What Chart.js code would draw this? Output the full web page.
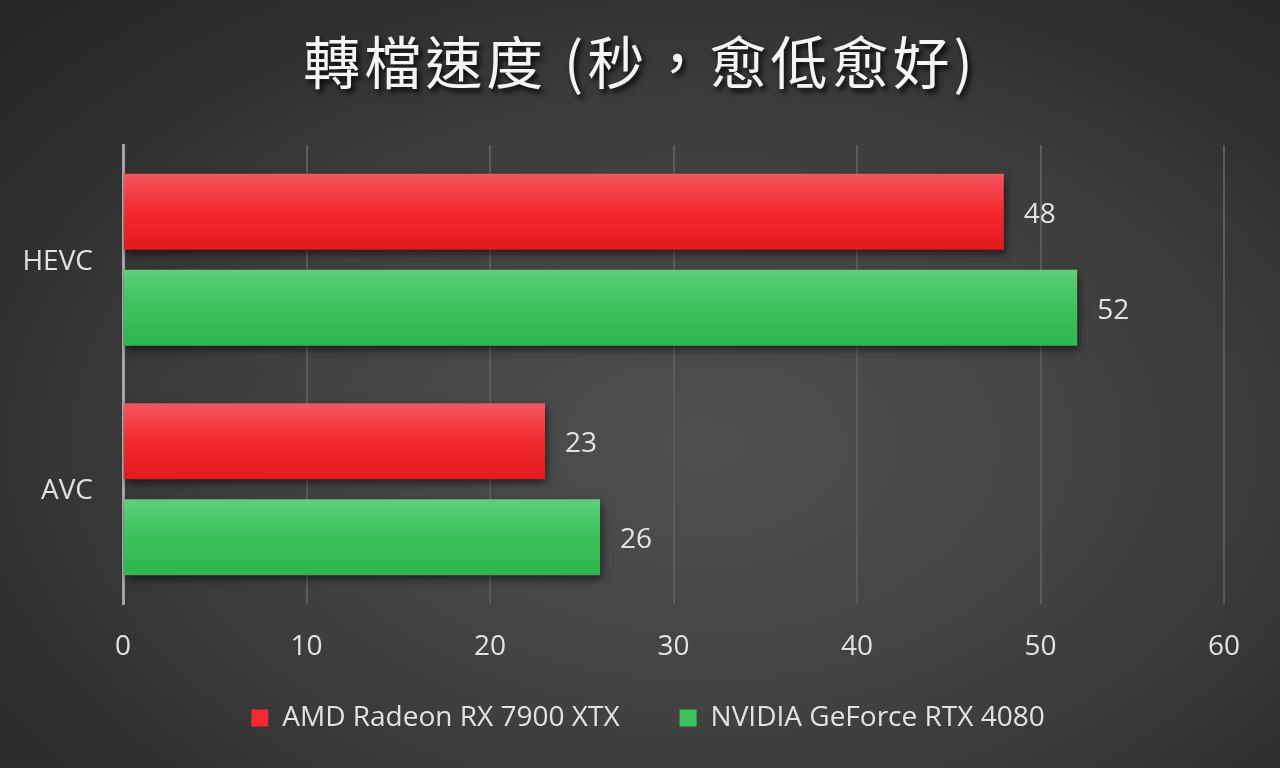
<!DOCTYPE html>
<html>
<head>
<meta charset="utf-8">
<title>轉檔速度</title>
<script src="https://cdn.jsdelivr.net/npm/chart.js@4.4.0/dist/chart.umd.min.js"></script>
<style>
  html, body {
    margin: 0;
    width: 1280px;
    height: 768px;
    overflow: hidden;
  }

  body {
    background: radial-gradient(ellipse 75% 80% at 55% 58%, #505050 0%, #414141 45%, #2c2c2c 85%, #262626 100%);
    font-family: 'Open Sans', 'Noto Sans', sans-serif;
  }

  #title {
    position: absolute;
    left: 0;
    top: 20px;
    width: 1280px;
    text-align: center;
    color: #f4f4f4;
    font-family: 'Noto Sans CJK TC', sans-serif;
    font-size: 57px;
    line-height: 78px;
    letter-spacing: 4px;
    text-shadow: 3px 4px 5px rgba(0, 0, 0, 0.85);
  }

  #wrap {
    position: absolute;
    left: 0;
    top: 0;
  }
</style>
</head>
<body>
<div id="title">轉檔速度 (秒，愈低愈好)</div>
<div id="wrap"><canvas id="chart" width="1280" height="768"></canvas></div>

<script>
  const categories = ['HEVC', 'AVC'];
  const seriesNames = ['AMD Radeon RX 7900 XTX', 'NVIDIA GeForce RTX 4080'];
  const amdSeconds = [48, 23];
  const nvidiaSeconds = [52, 26];
  const xTicks = [0, 10, 20, 30, 40, 50, 60];

  const BAR_STOPS = [
    ['#f4565e', '#f22a2e', '#e3191c'],
    ['#5ecf7b', '#3cc25a', '#2db74b']
  ];
  const TEXT_COLOR = '#e2e2e2';
  const FONT = "'Open Sans', 'Noto Sans', sans-serif";

  // per-bar vertical gradients + soft drop shadow
  const gradientBars = {
    id: 'gradientBars',
    beforeDatasetsDraw(chart) {
      const ctx = chart.ctx;
      chart.data.datasets.forEach((ds, i) => {
        chart.getDatasetMeta(i).data.forEach(el => {
          const top = el.y - el.height / 2;
          const g = ctx.createLinearGradient(0, top, 0, top + el.height);
          g.addColorStop(0, BAR_STOPS[i][0]);
          g.addColorStop(0.5, BAR_STOPS[i][1]);
          g.addColorStop(1, BAR_STOPS[i][2]);
          el.options = Object.assign({}, el.options, { backgroundColor: g });
        });
      });
    },
    beforeDatasetDraw(chart) {
      const ctx = chart.ctx;
      ctx.save();
      ctx.shadowColor = 'rgba(0, 0, 0, 0.55)';
      ctx.shadowBlur = 8;
      ctx.shadowOffsetX = 2;
      ctx.shadowOffsetY = 4;
    },
    afterDatasetDraw(chart) {
      chart.ctx.restore();
    }
  };

  const valueLabels = {
    id: 'valueLabels',
    afterDatasetsDraw(chart) {
      const ctx = chart.ctx;
      ctx.save();
      ctx.font = `28px ${FONT}`;
      ctx.fillStyle = TEXT_COLOR;
      ctx.textAlign = 'left';
      ctx.textBaseline = 'middle';
      chart.data.datasets.forEach((ds, i) => {
        chart.getDatasetMeta(i).data.forEach((el, j) => {
          ctx.fillText(String(ds.data[j]), el.x + 20, el.y + 3);
        });
      });
      ctx.restore();
    }
  };

  // legend sits a bit higher and right of where the layout puts it
  const legendNudge = {
    id: 'legendNudge',
    afterLayout(chart) {
      const l = chart.legend;
      const dx = 36;
      const dy = 644 - l.top;
      l.left += dx;
      l.right += dx;
      l.top += dy;
      l.bottom += dy;
    }
  };

  new Chart(document.getElementById('chart'), {
    type: 'bar',
    data: {
      labels: categories,
      datasets: [
        { label: seriesNames[0], data: amdSeconds, backgroundColor: BAR_STOPS[0][1] },
        { label: seriesNames[1], data: nvidiaSeconds, backgroundColor: BAR_STOPS[1][1] }
      ]
    },
    options: {
      indexAxis: 'y',
      responsive: false,
      animation: false,
      categoryPercentage: 0.837,
      barPercentage: 0.79,
      layout: {
        padding: { top: 145, right: 56, bottom: 6, left: 0 }
      },
      scales: {
        x: {
          min: 0,
          max: 60,
          afterBuildTicks(scale) {
            scale.ticks = xTicks.map(v => ({ value: v }));
          },
          afterFit(scale) {
            scale.height = 60;
          },
          grid: {
            color: '#5b5b5b',
            lineWidth: 2,
            drawTicks: false
          },
          border: { display: false },
          ticks: {
            color: TEXT_COLOR,
            font: { family: FONT, size: 28 },
            padding: 26
          }
        },
        y: {
          afterFit(scale) {
            scale.width = 123;
          },
          grid: { display: false, drawTicks: false },
          border: { color: '#a3a3a3', width: 3 },
          ticks: {
            color: TEXT_COLOR,
            font: { family: FONT, size: 28 },
            padding: 30,
            labelOffset: 2
          }
        }
      },
      plugins: {
        legend: {
          position: 'bottom',
          labels: {
            color: TEXT_COLOR,
            font: { family: FONT, size: 28 },
            boxWidth: 17,
            boxHeight: 17,
            padding: 60,
            generateLabels(chart) {
              return chart.data.datasets.map((ds, i) => ({
                text: ds.label,
                fillStyle: BAR_STOPS[i][1],
                strokeStyle: BAR_STOPS[i][1],
                lineWidth: 0,
                fontColor: TEXT_COLOR,
                datasetIndex: i
              }));
            }
          }
        },
        tooltip: { enabled: false }
      }
    },
    plugins: [gradientBars, valueLabels, legendNudge]
  });
</script>
</body>
</html>
